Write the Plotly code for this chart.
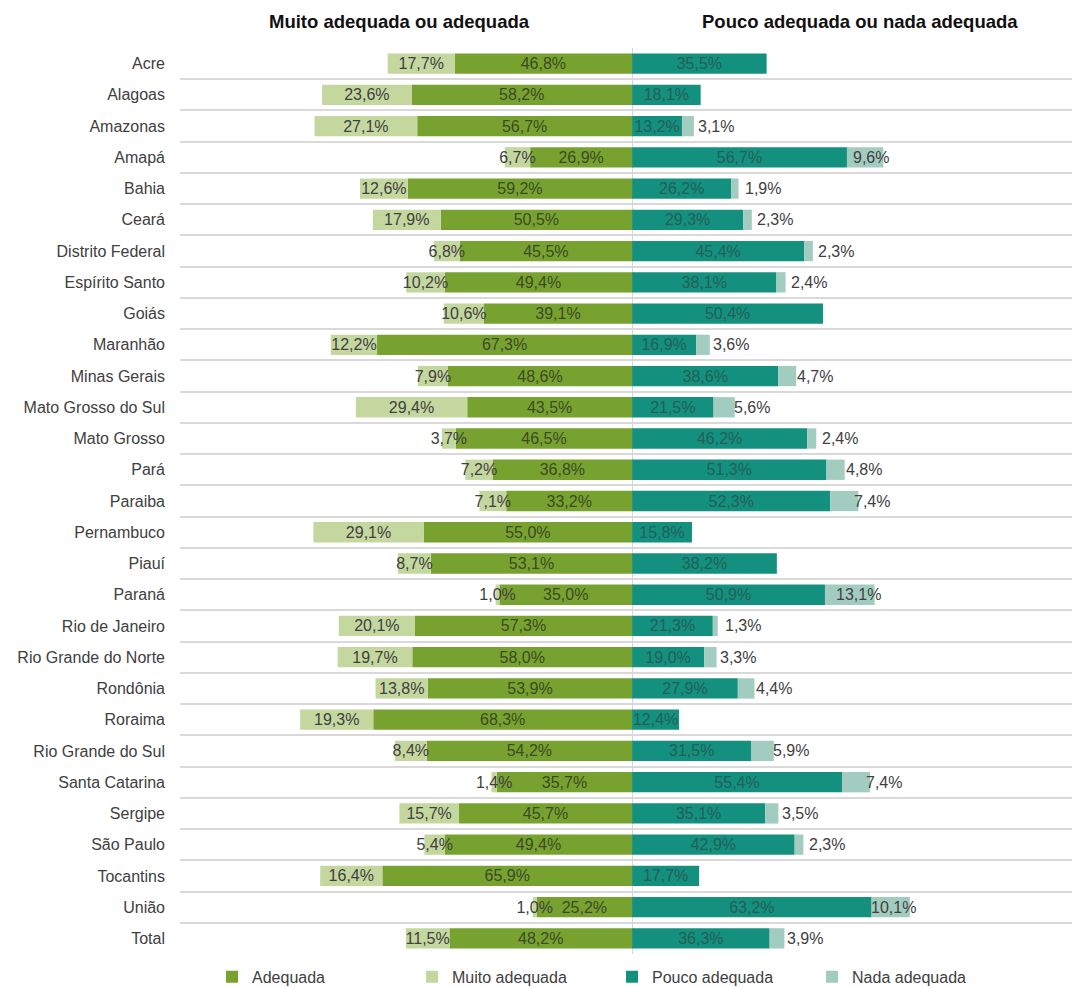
import plotly.graph_objects as go

categories = ["Acre", "Alagoas", "Amazonas", "Amapá", "Bahia", "Ceará", "Distrito Federal",
              "Espírito Santo", "Goiás", "Maranhão", "Minas Gerais", "Mato Grosso do Sul",
              "Mato Grosso", "Pará", "Paraiba", "Pernambuco", "Piauí", "Paraná",
              "Rio de Janeiro", "Rio Grande do Norte", "Rondônia", "Roraima",
              "Rio Grande do Sul", "Santa Catarina", "Sergipe", "São Paulo", "Tocantins",
              "União", "Total"]

muito_adequada = [17.7, 23.6, 27.1, 6.7, 12.6, 17.9, 6.8, 10.2, 10.6, 12.2, 7.9, 29.4, 3.7,
                  7.2, 7.1, 29.1, 8.7, 1.0, 20.1, 19.7, 13.8, 19.3, 8.4, 1.4, 15.7, 5.4,
                  16.4, 1.0, 11.5]
adequada = [46.8, 58.2, 56.7, 26.9, 59.2, 50.5, 45.5, 49.4, 39.1, 67.3, 48.6, 43.5, 46.5,
            36.8, 33.2, 55.0, 53.1, 35.0, 57.3, 58.0, 53.9, 68.3, 54.2, 35.7, 45.7, 49.4,
            65.9, 25.2, 48.2]
pouco_adequada = [35.5, 18.1, 13.2, 56.7, 26.2, 29.3, 45.4, 38.1, 50.4, 16.9, 38.6, 21.5,
                  46.2, 51.3, 52.3, 15.8, 38.2, 50.9, 21.3, 19.0, 27.9, 12.4, 31.5, 55.4,
                  35.1, 42.9, 17.7, 63.2, 36.3]
nada_adequada = [0, 0, 3.1, 9.6, 1.9, 2.3, 2.3, 2.4, 0, 3.6, 4.7, 5.6, 2.4, 4.8, 7.4, 0, 0,
                 13.1, 1.3, 3.3, 4.4, 0, 5.9, 7.4, 3.5, 2.3, 0, 10.1, 3.9]

series_names = ["Adequada", "Muito adequada", "Pouco adequada", "Nada adequada"]
titles = ["Muito adequada ou adequada", "Pouco adequada ou nada adequada"]

C_ADEQ = "#78a22f"
C_MUITO = "#c4d79f"
C_POUCO = "#14907f"
C_NADA = "#a2ccbf"
FONT = "Liberation Sans, Arial, sans-serif"


def fmt(v):
    return (f"{v:.1f}".replace(".", ",") + "%") if v > 0 else ""


fig = go.Figure()

common = dict(orientation="h", y=categories, textposition="inside",
              insidetextanchor="middle", constraintext="none", textangle=0,
              marker_line_width=0, hoverinfo="skip")

fig.add_trace(go.Bar(name=series_names[0], x=[-v for v in adequada],
                     text=[fmt(v) for v in adequada], marker_color=C_ADEQ,
                     insidetextfont=dict(family=FONT, size=16, color="#3c4a26"), **common))
fig.add_trace(go.Bar(name=series_names[1], x=[-v for v in muito_adequada],
                     text=[fmt(v) for v in muito_adequada], marker_color=C_MUITO,
                     insidetextfont=dict(family=FONT, size=16, color="#404040"), **common))
fig.add_trace(go.Bar(name=series_names[2], x=pouco_adequada,
                     text=[fmt(v) for v in pouco_adequada], marker_color=C_POUCO,
                     insidetextfont=dict(family=FONT, size=16, color="#235f57"), **common))
fig.add_trace(go.Bar(name=series_names[3], x=nada_adequada, marker_color=C_NADA,
                     orientation="h", y=categories, marker_line_width=0, hoverinfo="skip"))

annotations = []
for cat, p, n in zip(categories, pouco_adequada, nada_adequada):
    if n <= 0:
        continue
    if n >= 9:
        annotations.append(dict(x=p + n, y=cat, xref="x", yref="y", text=fmt(n),
                                xanchor="right", xshift=8, showarrow=False,
                                font=dict(family=FONT, size=16, color="#404040")))
    else:
        annotations.append(dict(x=p + n / 2, y=cat, xref="x", yref="y", text=fmt(n),
                                xanchor="left", xshift=8, showarrow=False,
                                font=dict(family=FONT, size=16, color="#404040")))

annotations.append(dict(x=0.244, y=1.0287, xref="paper", yref="paper", text=f"<b>{titles[0]}</b>",
                        showarrow=False, xanchor="center", yanchor="middle",
                        font=dict(family=FONT, size=18.5, color="#111111")))
annotations.append(dict(x=0.756, y=1.0287, xref="paper", yref="paper", text=f"<b>{titles[1]}</b>",
                        showarrow=False, xanchor="center", yanchor="middle",
                        font=dict(family=FONT, size=18.5, color="#111111")))

fig.update_layout(
    width=1072, height=980,
    barmode="relative", bargap=0.35,
    plot_bgcolor="white", paper_bgcolor="white",
    margin=dict(l=172, r=0, t=40, b=34, autoexpand=False),
    font=dict(family=FONT, size=16, color="#404040"),
    annotations=annotations,
    showlegend=True,
    legend=dict(orientation="h", x=0.0356, y=0.0115, xref="paper", yref="container",
                xanchor="left", yanchor="middle",
                entrywidth=155, entrywidthmode="pixels", traceorder="normal",
                font=dict(family=FONT, size=16, color="#404040"), bgcolor="rgba(0,0,0,0)"),
    xaxis=dict(range=[-119.3, 118.2], showgrid=False, showticklabels=False,
               zeroline=True, zerolinecolor="#d6d6d6", zerolinewidth=1, fixedrange=True),
    yaxis=dict(categoryorder="array", categoryarray=categories, type="category",
               range=[len(categories) - 0.5, -0.5], tickson="boundaries",
               showgrid=True, gridcolor="#d9d9d9", gridwidth=1.5, ticks="",
               ticklabelstandoff=14, tickfont=dict(family=FONT, size=16, color="#404040")),
)

fig.write_html("out.html")
